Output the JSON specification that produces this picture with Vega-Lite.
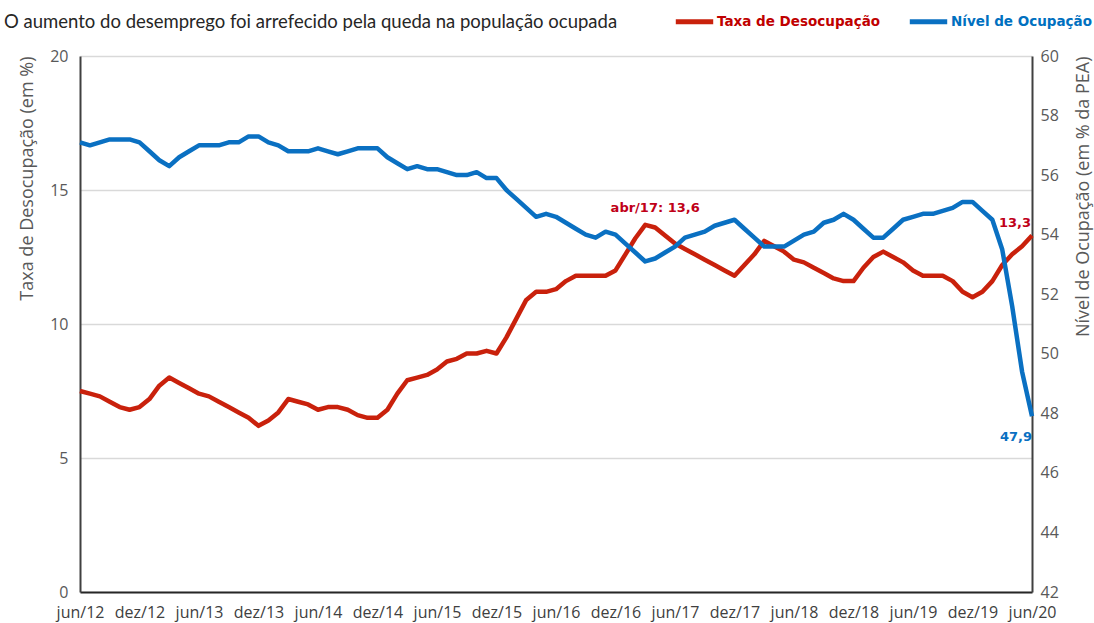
{
  "$schema": "https://vega.github.io/schema/vega-lite/v6.json",
  "width": 952,
  "height": 536,
  "autosize": "none",
  "padding": {"left": 80, "top": 56, "right": 62, "bottom": 31},
  "background": "white",
  "title": {
    "text": "O aumento do desemprego foi arrefecido pela queda na população ocupada",
    "anchor": "start",
    "frame": "group",
    "dx": -76,
    "offset": -31,
    "font": "Lato",
    "fontSize": 18.5,
    "fontWeight": "normal",
    "color": "#262626"
  },
  "config": {
    "view": {"stroke": null},
    "axis": {"labelFont": "Open Sans", "titleFont": "Open Sans", "titleFontWeight": "normal"}
  },
  "data": {"values": [
    {"mes": "jun/12", "taxa": 7.5, "nivel": 57.1},
    {"mes": "jul/12", "taxa": 7.4, "nivel": 57.0},
    {"mes": "ago/12", "taxa": 7.3, "nivel": 57.1},
    {"mes": "set/12", "taxa": 7.1, "nivel": 57.2},
    {"mes": "out/12", "taxa": 6.9, "nivel": 57.2},
    {"mes": "nov/12", "taxa": 6.8, "nivel": 57.2},
    {"mes": "dez/12", "taxa": 6.9, "nivel": 57.1},
    {"mes": "jan/13", "taxa": 7.2, "nivel": 56.8},
    {"mes": "fev/13", "taxa": 7.7, "nivel": 56.5},
    {"mes": "mar/13", "taxa": 8.0, "nivel": 56.3},
    {"mes": "abr/13", "taxa": 7.8, "nivel": 56.6},
    {"mes": "mai/13", "taxa": 7.6, "nivel": 56.8},
    {"mes": "jun/13", "taxa": 7.4, "nivel": 57.0},
    {"mes": "jul/13", "taxa": 7.3, "nivel": 57.0},
    {"mes": "ago/13", "taxa": 7.1, "nivel": 57.0},
    {"mes": "set/13", "taxa": 6.9, "nivel": 57.1},
    {"mes": "out/13", "taxa": 6.7, "nivel": 57.1},
    {"mes": "nov/13", "taxa": 6.5, "nivel": 57.3},
    {"mes": "dez/13", "taxa": 6.2, "nivel": 57.3},
    {"mes": "jan/14", "taxa": 6.4, "nivel": 57.1},
    {"mes": "fev/14", "taxa": 6.7, "nivel": 57.0},
    {"mes": "mar/14", "taxa": 7.2, "nivel": 56.8},
    {"mes": "abr/14", "taxa": 7.1, "nivel": 56.8},
    {"mes": "mai/14", "taxa": 7.0, "nivel": 56.8},
    {"mes": "jun/14", "taxa": 6.8, "nivel": 56.9},
    {"mes": "jul/14", "taxa": 6.9, "nivel": 56.8},
    {"mes": "ago/14", "taxa": 6.9, "nivel": 56.7},
    {"mes": "set/14", "taxa": 6.8, "nivel": 56.8},
    {"mes": "out/14", "taxa": 6.6, "nivel": 56.9},
    {"mes": "nov/14", "taxa": 6.5, "nivel": 56.9},
    {"mes": "dez/14", "taxa": 6.5, "nivel": 56.9},
    {"mes": "jan/15", "taxa": 6.8, "nivel": 56.6},
    {"mes": "fev/15", "taxa": 7.4, "nivel": 56.4},
    {"mes": "mar/15", "taxa": 7.9, "nivel": 56.2},
    {"mes": "abr/15", "taxa": 8.0, "nivel": 56.3},
    {"mes": "mai/15", "taxa": 8.1, "nivel": 56.2},
    {"mes": "jun/15", "taxa": 8.3, "nivel": 56.2},
    {"mes": "jul/15", "taxa": 8.6, "nivel": 56.1},
    {"mes": "ago/15", "taxa": 8.7, "nivel": 56.0},
    {"mes": "set/15", "taxa": 8.9, "nivel": 56.0},
    {"mes": "out/15", "taxa": 8.9, "nivel": 56.1},
    {"mes": "nov/15", "taxa": 9.0, "nivel": 55.9},
    {"mes": "dez/15", "taxa": 8.9, "nivel": 55.9},
    {"mes": "jan/16", "taxa": 9.5, "nivel": 55.5},
    {"mes": "fev/16", "taxa": 10.2, "nivel": 55.2},
    {"mes": "mar/16", "taxa": 10.9, "nivel": 54.9},
    {"mes": "abr/16", "taxa": 11.2, "nivel": 54.6},
    {"mes": "mai/16", "taxa": 11.2, "nivel": 54.7},
    {"mes": "jun/16", "taxa": 11.3, "nivel": 54.6},
    {"mes": "jul/16", "taxa": 11.6, "nivel": 54.4},
    {"mes": "ago/16", "taxa": 11.8, "nivel": 54.2},
    {"mes": "set/16", "taxa": 11.8, "nivel": 54.0},
    {"mes": "out/16", "taxa": 11.8, "nivel": 53.9},
    {"mes": "nov/16", "taxa": 11.8, "nivel": 54.1},
    {"mes": "dez/16", "taxa": 12.0, "nivel": 54.0},
    {"mes": "jan/17", "taxa": 12.6, "nivel": 53.7},
    {"mes": "fev/17", "taxa": 13.2, "nivel": 53.4},
    {"mes": "mar/17", "taxa": 13.7, "nivel": 53.1},
    {"mes": "abr/17", "taxa": 13.6, "nivel": 53.2},
    {"mes": "mai/17", "taxa": 13.3, "nivel": 53.4},
    {"mes": "jun/17", "taxa": 13.0, "nivel": 53.6},
    {"mes": "jul/17", "taxa": 12.8, "nivel": 53.9},
    {"mes": "ago/17", "taxa": 12.6, "nivel": 54.0},
    {"mes": "set/17", "taxa": 12.4, "nivel": 54.1},
    {"mes": "out/17", "taxa": 12.2, "nivel": 54.3},
    {"mes": "nov/17", "taxa": 12.0, "nivel": 54.4},
    {"mes": "dez/17", "taxa": 11.8, "nivel": 54.5},
    {"mes": "jan/18", "taxa": 12.2, "nivel": 54.2},
    {"mes": "fev/18", "taxa": 12.6, "nivel": 53.9},
    {"mes": "mar/18", "taxa": 13.1, "nivel": 53.6},
    {"mes": "abr/18", "taxa": 12.9, "nivel": 53.6},
    {"mes": "mai/18", "taxa": 12.7, "nivel": 53.6},
    {"mes": "jun/18", "taxa": 12.4, "nivel": 53.8},
    {"mes": "jul/18", "taxa": 12.3, "nivel": 54.0},
    {"mes": "ago/18", "taxa": 12.1, "nivel": 54.1},
    {"mes": "set/18", "taxa": 11.9, "nivel": 54.4},
    {"mes": "out/18", "taxa": 11.7, "nivel": 54.5},
    {"mes": "nov/18", "taxa": 11.6, "nivel": 54.7},
    {"mes": "dez/18", "taxa": 11.6, "nivel": 54.5},
    {"mes": "jan/19", "taxa": 12.1, "nivel": 54.2},
    {"mes": "fev/19", "taxa": 12.5, "nivel": 53.9},
    {"mes": "mar/19", "taxa": 12.7, "nivel": 53.9},
    {"mes": "abr/19", "taxa": 12.5, "nivel": 54.2},
    {"mes": "mai/19", "taxa": 12.3, "nivel": 54.5},
    {"mes": "jun/19", "taxa": 12.0, "nivel": 54.6},
    {"mes": "jul/19", "taxa": 11.8, "nivel": 54.7},
    {"mes": "ago/19", "taxa": 11.8, "nivel": 54.7},
    {"mes": "set/19", "taxa": 11.8, "nivel": 54.8},
    {"mes": "out/19", "taxa": 11.6, "nivel": 54.9},
    {"mes": "nov/19", "taxa": 11.2, "nivel": 55.1},
    {"mes": "dez/19", "taxa": 11.0, "nivel": 55.1},
    {"mes": "jan/20", "taxa": 11.2, "nivel": 54.8},
    {"mes": "fev/20", "taxa": 11.6, "nivel": 54.5},
    {"mes": "mar/20", "taxa": 12.2, "nivel": 53.5},
    {"mes": "abr/20", "taxa": 12.6, "nivel": 51.6},
    {"mes": "mai/20", "taxa": 12.9, "nivel": 49.4},
    {"mes": "jun/20", "taxa": 13.3, "nivel": 47.9}
  ]},
  "encoding": {
    "x": {
      "field": "mes",
      "type": "ordinal",
      "sort": null,
      "scale": {"type": "point", "padding": 0},
      "axis": {
        "title": null,
        "values": ["jun/12", "dez/12", "jun/13", "dez/13", "jun/14", "dez/14", "jun/15", "dez/15", "jun/16", "dez/16", "jun/17", "dez/17", "jun/18", "dez/18", "jun/19", "dez/19", "jun/20"],
        "labelAngle": 0,
        "labelFontSize": 16,
        "labelColor": "#404040",
        "labelPadding": 12,
        "ticks": false,
        "grid": false,
        "domainColor": "#262626",
        "domainWidth": 2
      }
    }
  },
  "layer": [
    {
      "layer": [
        {
          "mark": {"type": "line", "strokeWidth": 4.5, "strokeJoin": "round"},
          "encoding": {
            "y": {
              "field": "taxa",
              "type": "quantitative",
              "scale": {"domain": [0, 20], "nice": false, "zero": true},
              "axis": {
                "orient": "left",
                "title": "Taxa de Desocupação (em %)",
                "titleAnchor": "end",
                "values": [0, 5, 10, 15, 20],
                "labelFontSize": 16,
                "labelColor": "#595959",
                "labelPadding": 12,
                "ticks": false,
                "titleFontSize": 18,
                "titleColor": "#595959",
                "titlePadding": 13,
                "grid": true,
                "gridColor": "#d9d9d9",
                "gridWidth": 1.5,
                "domainColor": "#404040",
                "domainWidth": 2
              }
            },
            "color": {
              "datum": "Taxa de Desocupação",
              "type": "nominal",
              "scale": {"domain": ["Taxa de Desocupação", "Nível de Ocupação"], "range": ["#c9210c", "#0a70c2"]},
              "legend": {
                "title": null,
                "orient": "none",
                "legendX": 593,
                "legendY": -56,
                "direction": "horizontal",
                "symbolType": "stroke",
                "symbolSize": 1400,
                "symbolStrokeWidth": 5,
                "labelFont": "DejaVu Sans",
                "labelFontWeight": "bold",
                "labelFontSize": 13.5,
                "labelLimit": 400,
                "labelOffset": 1,
                "columnPadding": 18,
                "encode": {
                  "labels": {"update": {"fill": {"signal": "datum.value === 'Taxa de Desocupação' ? '#c00000' : '#0070c0'"}}}
                }
              }
            }
          }
        },
        {
          "transform": [{"filter": "datum.mes === 'abr/17'"}],
          "mark": {"type": "text", "font": "DejaVu Sans", "fontWeight": "bold", "fontSize": 13, "color": "#c00018", "dy": -20, "align": "center"},
          "encoding": {
            "y": {"field": "taxa", "type": "quantitative"},
            "text": {"value": "abr/17: 13,6"}
          }
        },
        {
          "transform": [{"filter": "datum.mes === 'jun/20'"}],
          "mark": {"type": "text", "font": "DejaVu Sans", "fontWeight": "bold", "fontSize": 13, "color": "#c00018", "dy": -13, "dx": -1, "align": "right"},
          "encoding": {
            "y": {"field": "taxa", "type": "quantitative"},
            "text": {"value": "13,3"}
          }
        }
      ]
    },
    {
      "layer": [
        {
          "mark": {"type": "line", "strokeWidth": 4.5, "strokeJoin": "round"},
          "encoding": {
            "y": {
              "field": "nivel",
              "type": "quantitative",
              "scale": {"domain": [42, 60], "nice": false, "zero": false},
              "axis": {
                "orient": "right",
                "title": "Nível de Ocupação (em % da PEA)",
                "titleAngle": 270,
                "titleAnchor": "end",
                "values": [42, 44, 46, 48, 50, 52, 54, 56, 58, 60],
                "labelFontSize": 16,
                "labelColor": "#595959",
                "labelPadding": 8,
                "ticks": false,
                "titleFontSize": 18,
                "titleColor": "#595959",
                "titlePadding": 34,
                "grid": false,
                "domainColor": "#404040",
                "domainWidth": 2
              }
            },
            "color": {"datum": "Nível de Ocupação", "type": "nominal"}
          }
        },
        {
          "transform": [{"filter": "datum.mes === 'jun/20'"}],
          "mark": {"type": "text", "font": "DejaVu Sans", "fontWeight": "bold", "fontSize": 13, "color": "#0a70c2", "dy": 21, "dx": 0, "align": "right"},
          "encoding": {
            "y": {"field": "nivel", "type": "quantitative"},
            "text": {"value": "47,9"}
          }
        }
      ]
    }
  ],
  "resolve": {"scale": {"y": "independent"}}
}
